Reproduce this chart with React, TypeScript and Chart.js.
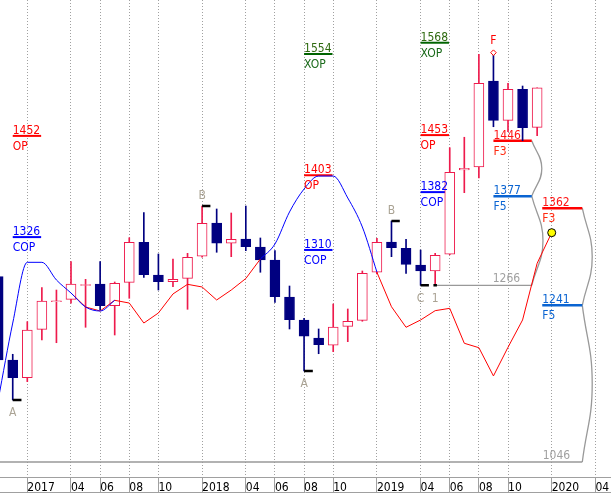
import React, { useEffect, useRef } from 'react';
import { Chart, registerables } from 'chart.js';

Chart.register(...registerables);

const FONT = '"DejaVu Sans Condensed", "DejaVu Sans", sans-serif';

// month index: 0 = Jan 2017
const candleMonths = [-2, -1, 0, 1, 2, 3, 4, 5, 6, 7, 8, 9, 10, 11, 12, 13, 14, 15, 16, 17, 18, 19, 20, 21, 22, 23, 24, 25, 26, 27, 28, 29, 30, 31, 32, 33, 34, 35];
const opens = [1276.7, 1173.0, 1150.9, 1211.2, 1245.5, 1248.5, 1265.8, 1267.6, 1240.6, 1269.7, 1319.5, 1278.8, 1270.5, 1274.7, 1302.1, 1343.6, 1318.3, 1323.6, 1313.7, 1297.5, 1251.4, 1222.8, 1200.4, 1191.3, 1214.9, 1222.4, 1282.2, 1319.9, 1312.0, 1291.3, 1283.8, 1304.6, 1409.5, 1413.3, 1520.3, 1471.4, 1510.0, 1462.7];
const highs = [1290.0, 1180.1, 1220.7, 1263.0, 1260.1, 1295.4, 1273.4, 1295.4, 1270.1, 1325.2, 1356.4, 1305.0, 1298.7, 1305.8, 1364.7, 1361.0, 1356.0, 1364.7, 1324.9, 1309.1, 1265.1, 1224.9, 1211.6, 1242.7, 1236.5, 1283.8, 1324.5, 1346.0, 1323.2, 1309.9, 1305.8, 1437.3, 1450.3, 1553.6, 1555.6, 1517.5, 1514.1, 1512.0];
const lows = [1165.0, 1123.2, 1146.0, 1197.9, 1194.5, 1243.6, 1213.7, 1235.2, 1204.1, 1249.8, 1275.9, 1260.1, 1264.2, 1236.1, 1301.0, 1307.1, 1301.6, 1309.1, 1282.2, 1244.8, 1211.6, 1159.3, 1180.8, 1183.3, 1195.8, 1221.2, 1280.1, 1301.6, 1280.9, 1266.0, 1266.0, 1304.0, 1381.3, 1399.6, 1463.4, 1457.2, 1446.0, 1452.2];
const closes = [1173.0, 1150.9, 1210.3, 1246.4, 1246.7, 1267.6, 1267.0, 1240.6, 1268.5, 1319.5, 1279.2, 1270.5, 1273.4, 1300.8, 1343.2, 1318.3, 1323.2, 1314.0, 1297.5, 1251.8, 1223.2, 1202.5, 1192.0, 1214.1, 1221.2, 1280.9, 1319.5, 1312.8, 1292.1, 1283.8, 1303.3, 1406.7, 1411.7, 1517.5, 1471.4, 1510.0, 1462.2, 1512.0];

const blueMonths = [-2, -1, 0, 1, 2, 3, 4, 5, 6, 7, 8, 9, 10, 11, 12, 13, 14, 15, 16, 17, 18, 19, 20, 21, 22, 23, 24];
const blueValues = [1123.2, 1219.0, 1294.6, 1294.6, 1272.6, 1256.4, 1239.0, 1234.0, 1247.3, null, null, null, null, null, null, null, null, null, 1298.7, 1317.4, 1357.3, 1385.9, 1402.0, 1402.0, 1374.7, 1338.6, 1282.5];

const redMonths = [3, 4, 5, 6, 7, 8, 9, 10, 11, 12, 13, 14, 15, 16, 17, 18, 19, 20, 21, 22, 23, 24, 25, 26, 27, 28, 29, 30, 31, 32, 33, 34, 35, 36];
const redValues = [1256.4, 1239.0, 1234.0, 1247.3, 1243.9, 1219.0, 1231.5, 1255.2, 1267.2, 1263.9, 1247.7, 1260.1, 1274.4, 1298.7, null, null, null, null, null, null, null, 1282.2, 1239.3, 1213.7, 1222.8, 1234.4, 1237.3, 1193.8, 1188.3, 1153.1, 1188.8, 1222.8, 1293.4, 1331.5];

const tickMonths = [0, 3, 5, 7, 9, 12, 15, 17, 19, 21, 24, 27, 29, 31, 33, 36, 39];
const tickLabels = ['2017', '04', '06', '08', '10', '2018', '04', '06', '08', '10', '2019', '04', '06', '08', '10', '2020', '04'];

const levelValues = [1452, 1326, 1554, 1403, 1310, 1568, 1453, 1382, 1446, 1377, 1362, 1241];
const levelTags = ['OP', 'COP', 'XOP', 'OP', 'COP', 'XOP', 'OP', 'COP', 'F3', 'F5', 'F3', 'F5'];
const levelFrom = [-1, -1, 19, 19, 19, 27, 27, 27, 32, 32, 35.35, 35.35];
const levelTo = [0.95, 0.95, 20.95, 20.95, 20.95, 28.95, 28.95, 28.95, 34.63, 34.63, 38.1, 38.1];

const fibValues = [1266, 1046];
const fibFrom = [28.05, -2];
const fibTo = [34.63, 38.1];
const fibLabelAt = [31.95, 35.38];

const arcFrom = [1266, 1377, 1362, 1241];
const arcTo = [1377, 1446, 1241, 1046];
const arcBase = [34.63, 34.63, 38.1, 38.1];
const arcBulge = [35.4, 35.32, 38.78, 38.78];

const pivotMonths = [-1, 12, 19, 25, 27, 28];
const pivotValues = [1123.2, 1364.7, 1159.3, 1346.0, 1266, 1266];
const pivotNames = ['A', 'B', 'A', 'B', 'C', '1'];
const pivotHigh = [false, true, false, true, false, false];
const pivotTickFrom = [0, 0, 0, 0, 0, -0.12];
const pivotTickTo = [0.6, 0.57, 0.6, 0.57, 0.57, 0.12];

const peakMonth = 32;
const peakValue = 1555.6;
const peakName = 'F';
const endMonth = 36;
const endValue = 1331.5;

const X_MIN = -1.874;
const X_MAX = 40.07;
const Y_MIN = 1027.3;
const Y_MAX = 1621.2;

const UP = '#ee1a4c';
const DOWN = '#000080';

const tagStyle: Record<string, { line: string; num: string; tag: string; w: number }> = {
  OP: { line: '#ff0000', num: '#ff0000', tag: '#ff0000', w: 2 },
  COP: { line: '#0000ff', num: '#0000ff', tag: '#0000ff', w: 2 },
  XOP: { line: '#006400', num: '#2f6a10', tag: '#1a6a1a', w: 2 },
  F3: { line: '#ff0000', num: '#ff1414', tag: '#ff2a10', w: 2.5 },
  F5: { line: '#0a64d2', num: '#0a64d2', tag: '#0a64d2', w: 2.5 },
};

const textPlugin = {
  id: 'texts',
  afterDatasetsDraw(chart: any) {
    const { ctx } = chart;
    const x = chart.scales.x;
    const y = chart.scales.y;
    ctx.save();
    ctx.font = `12px ${FONT}`;
    ctx.textBaseline = 'alphabetic';
    ctx.textAlign = 'left';
    levelValues.forEach((v, i) => {
      const st = tagStyle[levelTags[i]];
      const px = x.getPixelForValue(levelFrom[i]);
      const py = y.getPixelForValue(v);
      ctx.fillStyle = st.num;
      ctx.fillText(String(v), px, py - 2);
      ctx.fillStyle = st.tag;
      ctx.fillText(levelTags[i], px, py + 14);
    });
    fibValues.forEach((v, i) => {
      ctx.fillStyle = '#a0a0a0';
      ctx.fillText(String(v), x.getPixelForValue(fibLabelAt[i]), y.getPixelForValue(v) - 3);
    });
    ctx.textAlign = 'center';
    pivotNames.forEach((n, i) => {
      const px = x.getPixelForValue(pivotMonths[i]);
      const py = y.getPixelForValue(pivotValues[i]);
      ctx.fillStyle = '#aaa394';
      ctx.fillText(n, px, pivotHigh[i] ? py - 7.5 : py + 16.5);
    });
    ctx.fillStyle = '#ff0000';
    ctx.fillText(peakName, x.getPixelForValue(peakMonth), y.getPixelForValue(peakValue) - 8.5);
    ctx.restore();
  },
  afterDraw(chart: any) {
    const { ctx } = chart;
    ctx.save();
    ctx.strokeStyle = '#a0a0a0';
    ctx.lineWidth = 1;
    ctx.beginPath();
    ctx.moveTo(0, 492.5);
    ctx.lineTo(chart.width, 492.5);
    ctx.stroke();
    ctx.restore();
  },
};

export default function App() {
  const ref = useRef<HTMLCanvasElement>(null);

  useEffect(() => {
    document.body.style.margin = '0';
    const canvas = ref.current;
    if (!canvas) return;

    const isUp = (i: number) => closes[i] >= opens[i];
    const datasets: any[] = [];

    datasets.push({
      type: 'line',
      data: [{ x: endMonth, y: endValue }],
      showLine: false,
      pointRadius: 4,
      pointBackgroundColor: '#ffff00',
      pointBorderColor: '#000000',
      pointBorderWidth: 1,
      order: 0,
    });
    datasets.push({
      type: 'line',
      data: [{ x: peakMonth, y: peakValue }],
      showLine: false,
      pointStyle: 'rectRot',
      pointRadius: 2.8,
      pointBackgroundColor: '#ffffff',
      pointBorderColor: '#ff0000',
      pointBorderWidth: 1,
      order: 0,
    });

    const tickData: any[] = [];
    pivotMonths.forEach((m, i) => {
      tickData.push({ x: m + pivotTickFrom[i], y: pivotValues[i] });
      tickData.push({ x: m + pivotTickTo[i], y: pivotValues[i] });
      tickData.push({ x: m + pivotTickTo[i], y: null });
    });
    datasets.push({
      type: 'line',
      data: tickData,
      borderColor: '#000000',
      borderWidth: 2.5,
      pointRadius: 0,
      spanGaps: false,
      borderCapStyle: 'butt',
      order: 1,
    });

    datasets.push({
      type: 'line',
      data: blueMonths.map((m, i) => ({ x: m, y: blueValues[i] })),
      borderColor: '#0000ff',
      borderWidth: 1,
      pointRadius: 0,
      spanGaps: false,
      cubicInterpolationMode: 'monotone',
      order: 2,
    });
    datasets.push({
      type: 'line',
      data: redMonths.map((m, i) => ({ x: m, y: redValues[i] })),
      borderColor: '#ff0000',
      borderWidth: 1,
      pointRadius: 0,
      spanGaps: false,
      tension: 0,
      order: 3,
    });

    datasets.push({
      type: 'bar',
      data: candleMonths.map((m, i) => ({ x: m, y: [Math.min(opens[i], closes[i]), Math.max(opens[i], closes[i])] })),
      backgroundColor: candleMonths.map((_, i) => (isUp(i) ? '#ffffff' : DOWN)),
      borderColor: candleMonths.map((_, i) => (isUp(i) ? UP : DOWN)),
      borderWidth: 1,
      borderSkipped: false,
      barThickness: 10,
      grouped: false,
      order: 4,
    });
    datasets.push({
      type: 'bar',
      data: candleMonths.map((m, i) => ({ x: m, y: [lows[i], highs[i]] })),
      backgroundColor: candleMonths.map((_, i) => (isUp(i) ? UP : DOWN)),
      borderWidth: 0,
      barThickness: 1,
      grouped: false,
      order: 5,
    });

    levelValues.forEach((v, i) => {
      const st = tagStyle[levelTags[i]];
      datasets.push({
        type: 'line',
        data: [{ x: levelFrom[i], y: v }, { x: levelTo[i], y: v }],
        borderColor: st.line,
        borderWidth: st.w,
        pointRadius: 0,
        borderCapStyle: 'butt',
        order: 6,
      });
    });

    fibValues.forEach((v, i) => {
      datasets.push({
        type: 'line',
        data: [{ x: fibFrom[i], y: v }, { x: fibTo[i], y: v }],
        borderColor: '#999999',
        borderWidth: 1.3,
        pointRadius: 0,
        order: 7,
      });
    });
    arcFrom.forEach((v, i) => {
      datasets.push({
        type: 'line',
        data: [
          { x: arcBase[i], y: v },
          { x: arcBulge[i], y: (v + arcTo[i]) / 2 },
          { x: arcBase[i], y: arcTo[i] },
        ],
        borderColor: '#999999',
        borderWidth: 1.3,
        pointRadius: 0,
        tension: 0.45,
        order: 7,
      });
    });

    const chart = new Chart(canvas, {
      type: 'bar',
      data: { datasets },
      options: {
        responsive: false,
        animation: false,
        events: [],
        layout: { padding: 0, autoPadding: false },
        plugins: { legend: { display: false }, tooltip: { enabled: false } },
        scales: {
          x: {
            type: 'linear',
            min: X_MIN,
            max: X_MAX,
            offset: false,
            position: 'bottom',
            afterBuildTicks: (s: any) => {
              s.ticks = tickMonths.map((v) => ({ value: v }));
            },
            afterFit: (s: any) => {
              s.height = 20;
              s.paddingLeft = 0;
              s.paddingRight = 0;
            },
            ticks: {
              autoSkip: false,
              maxRotation: 0,
              minRotation: 0,
              align: 'start',
              padding: -12.8,
              color: '#000000',
              font: { family: FONT, size: 12 },
              callback: (value: any) => {
                const i = tickMonths.indexOf(Number(value));
                return i >= 0 ? tickLabels[i] : '';
              },
            },
            grid: {
              offset: false,
              color: '#a0a0a0',
              lineWidth: 1,
              drawTicks: true,
              tickLength: 16,
              tickColor: '#a0a0a0',
              tickBorderDash: [],
            },
            border: { display: true, color: '#a0a0a0', width: 1, dash: [1, 2] },
          } as any,
          y: {
            type: 'linear',
            min: Y_MIN,
            max: Y_MAX,
            display: false,
          },
        },
      } as any,
      plugins: [textPlugin],
    });

    return () => chart.destroy();
  }, []);

  return (
    <div style={{ width: 611, height: 497 }}>
      <canvas ref={ref} width={611} height={497} style={{ display: 'block' }} />
    </div>
  );
}
